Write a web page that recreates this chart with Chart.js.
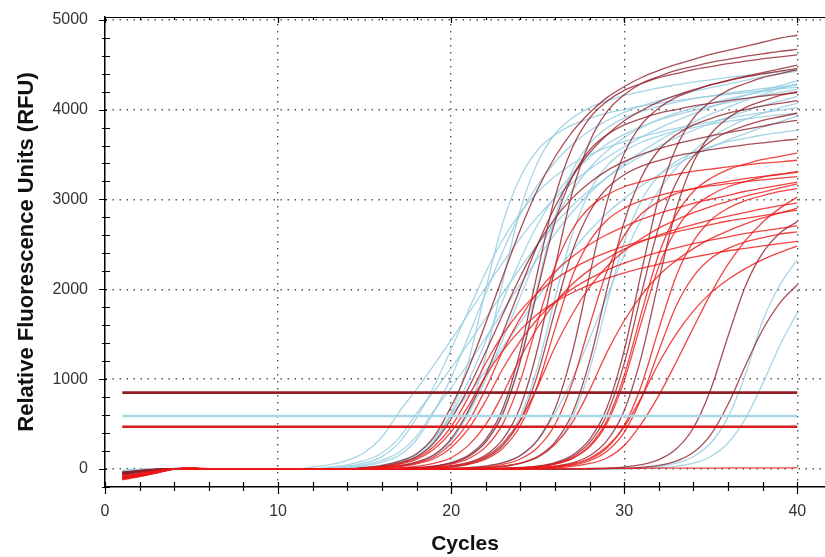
<!DOCTYPE html>
<html>
<head>
<meta charset="utf-8">
<script src="https://cdn.jsdelivr.net/npm/chart.js@4.4.1/dist/chart.umd.min.js"></script>
<style>
  html, body { margin: 0; padding: 0; background: #fff; }
  #wrap { width: 825px; height: 557px; }
</style>
</head>
<body>
<div id="wrap"><canvas id="chartAmplification" width="825" height="557"></canvas></div>
<script>
const cycles = [1,2,3,4,5,6,7,8,9,10,11,12,13,14,15,16,17,18,19,20,21,22,23,24,25,26,27,28,29,30,31,32,33,34,35,36,37,38,39,40];

// threshold levels (RFU): dark red, light blue, red
const thresholds = [850, 590, 470];

const xTickLabels = [0, 10, 20, 30, 40];
const yTickLabels = [0, 1000, 2000, 3000, 4000, 5000];

// RFU per cycle, one row per well
const lightBlueRuns = [
    [-30,-15,-5,5,5,0,0,0,0,0,0, 22,49,97,184,356,637,886,1156,1436,1728,2020,2300,2570,2808,3013,3186,3337,3467,3586,3694,3791,3877,3953,4028,4093,4158,4212,4266,4320],
    [-20,-10,0,5,0,0,0,0,0,0,0,0, 21,47,95,179,347,620,861,1124,1397,1680,1964,2237,2499,2730,2930,3098,3245,3371,3486,3591,3686,3770,3843,3917,3980,4043,4095,4148],
    [-40,-20,-5,5,5,0,0,0,0,0,0,0,0, 15,36,77,153,326,632,1020,1479,1958,2428,2836,3162,3417,3611,3764,3876,3968,4039,4100,4151,4202,4243,4284,4325,4366,4396,4427],
    [-25,-10,0,10,5,0,0,0,0,0,0,0,0, 22,50,99,187,363,649,902,1177,1463,1760,2057,2343,2618,2860,3069,3245,3399,3531,3652,3762,3861,3949,4026,4103,4169,4235,4290],
    [-30,-15,-5,5,5,0,0,0,0,0,0,0,0,0, 15,34,74,147,314,608,980,1421,1882,2332,2724,3038,3283,3469,3616,3724,3812,3881,3940,3989,4038,4077,4116,4155,4194,4224],
    [-20,-10,0,5,0,0,0,0,0,0,0,0, 14,32,69,138,294,570,920,1334,1766,2190,2558,2852,3082,3257,3395,3496,3579,3643,3698,3744,3790,3827,3864,3901,3938,3965,3993,4020],
    [-35,-15,-5,5,5,0,0,0,0,0,0,0,0, 8,15,30,65,140,300,620,1200,2000,2750,3250,3550,3720,3830,3900,3960,4000,4040,4070,4100,4125,4150,4170,4190,4210,4230,4250],
    [-30,-10,0,5,5,0,0,0,0,0,0,0,0,0, 8,16,32,68,147,315,651,1260,2100,2888,3413,3728,3906,4022,4095,4158,4200,4242,4274,4305,4331,4358,4379,4400,4420,4440],
    [-20,-10, 0,0,0,0,0,0,0,0,0,0, 0,0,0,0, 8,15,31,66,143,306,632,1224,2040,2805,3315,3621,3794,3907,3978,4039,4080,4121,4151,4182,4208,4233,4253,4274],
    [-25,-10, 0,0,0,0,0,0,0,0,0,0, 0,0,0,0,0, 8,14,29,62,133,285,589,1140,1900,2613,3088,3373,3534,3639,3705,3762,3800,3838,3867,3895,3919,3943,3962],
    [-30,-10, 0,0,0,0,0,0,0,0,0,0, 0,0,0,0,0,0,0,0, 15,35,75,150,320,620,1000,1450,1920,2380,2780,3100,3350,3540,3690,3800,3890,3960,4020,4070],
    [-20,-5, 0,0,0,0,0,0,0,0,0,0, 0,0,0,0,0,0,0,0, 7,14,28,60,129,276,570,1104,1840,2530,2990,3266,3422,3524,3588,3643,3680,3717,3744,3772],
    [-30,-10, 0,0,0,0,0,0,0,0,0,0, 0,0,0,0,0,0,0,0,0,0, 0,0,0,0,0,0,0, 8,15,30,65,140,290,580,1050,1650,2050,2330],
    [-20,-5, 0,0,0,0,0,0,0,0,0,0, 0,0,0,0,0,0,0,0,0,0, 0,0,0,0,0,0,0,0, 8,15,30,65,140,290,560,950,1380,1740],
    [-30,-10,0,5, 0,0,0,0,0,0,0,0,0,0, 0, 15,35,75,150,320,620,1000,1450,1920,2380,2780,3100,3350,3540,3690,3800,3890,3960,4020,4070,4120,4160,4200,4240,4280],
    [-15,-5, 0,0,0,0,0,0,0,0,0,0, 0,0, 20,46,92,173,337,602,836,1091,1357,1632,1907,2173,2428,2652,2846,3009,3152,3274,3386,3488,3580,3662,3733,3805,3866,3927],
];

const darkRedRuns = [
    [-60,-35,-10,5,10,5, 0,0,0,0,0,0,0,0, 17,39,84,168,358,694,1120,1624,2150,2666,3114,3472,3752,3965,4133,4256,4357,4435,4502,4558,4614,4659,4704,4749,4794,4827],
    [-50,-25,-5,5, 0,0,0,0,0,0,0,0,0,0, 14,32,68,135,288,558,900,1305,1728,2142,2502,2790,3015,3186,3321,3420,3501,3564,3618,3663,3708,3744,3780,3816,3852,3879],
    [-70,-40,-15,5,10, 0,0,0,0,0,0,0,0,0,0, 16,37,79,158,336,651,1050,1523,2016,2499,2919,3255,3518,3717,3875,3990,4085,4158,4221,4274,4326,4368,4410,4452,4494],
    [-50,-30,-10,5, 0,0,0,0,0,0,0,0,0,0, 0,0, 9,17,33,72,154,330,682,1320,2200,3025,3575,3905,4092,4213,4290,4356,4400,4444,4477,4510,4538,4565,4587,4609],
    [-40,-20,-5, 0,0,0,0,0,0,0,0,0,0, 0,0,0, 8,15,30,65,140,300,620,1200,2000,2750,3250,3550,3720,3830,3900,3960,4000,4040,4070,4100,4125,4150,4170,4190],
    [-60,-30,-10,5, 0,0,0,0,0,0,0,0,0,0, 0,0,0, 9,17,34,73,157,336,694,1344,2240,3080,3640,3976,4166,4290,4368,4435,4480,4525,4558,4592,4620,4648,4670],
    [-45,-25,-5, 0,0,0,0,0,0,0,0,0,0, 0,0,0,0, 7,13,26,57,123,264,546,1056,1760,2420,2860,3124,3274,3370,3432,3485,3520,3555,3582,3608,3630,3652,3670],
    [-50,-25,-5,5, 0,0,0,0,0,0,0,0,0,0, 0,0,0,0,0, 9,16,32,70,151,324,670,1296,2160,2970,3510,3834,4018,4136,4212,4277,4320,4363,4396,4428,4455],
    [-40,-20,-5, 0,0,0,0,0,0,0,0,0,0, 0,0,0,0,0,0,0, 8,15,30,65,140,300,620,1200,2000,2750,3250,3550,3720,3830,3900,3960,4000,4040,4070,4100],
    [-55,-30,-10,5, 0,0,0,0,0,0,0,0,0,0, 0,0,0,0,0,0,0,0, 9,17,33,72,154,330,682,1320,2200,3025,3575,3905,4092,4213,4290,4356,4400,4444],
    [-45,-20,-5, 0,0,0,0,0,0,0,0,0,0, 0,0,0,0,0,0,0,0,0, 8,15,29,64,137,294,608,1176,1960,2695,3185,3479,3646,3753,3822,3881,3920,3959],
    [-50,-25,-5, 0,0,0,0,0,0,0,0,0,0, 0,0,0,0,0,0,0,0,0,0, 8,16,32,68,147,315,651,1260,2100,2888,3413,3728,3906,4022,4095,4158,4200],
    [-40,-20,-5, 0,0,0,0,0,0,0,0,0,0, 0,0,0,0,0,0,0,0,0,0, 0,0,0,0, 6,11,22,48,104,222,459,888,1480,2035,2405,2627,2753],
    [-35,-15,0, 0,0,0,0,0,0,0,0,0,0, 0,0,0,0,0,0,0,0,0,0, 0,0,0,0,0, 5,9,19,40,87,186,384,720,1150,1550,1850,2050],
];

const redRuns = [
    [-110,-80,-40,0,10,5, 0,0,0,0,0,0,0,0, 12,28,60,120,250,470,800,1180,1500,1760,1960,2110,2230,2330,2410,2480,2540,2590,2640,2680,2720,2760,2790,2820,2850,2880],
    [-100,-70,-35,0,10, 0,0,0,0,0,0,0,0,0, 11,25,53,106,220,414,704,1038,1320,1549,1725,1857,1962,2050,2121,2182,2235,2279,2323,2358,2394,2429,2455,2482,2508,2534],
    [-90,-60,-30,0,10, 0,0,0,0,0,0,0,0,0,0, 11,27,57,114,238,447,760,1121,1425,1672,1862,2005,2119,2214,2290,2356,2413,2461,2508,2546,2584,2622,2651,2679,2708],
    [-120,-85,-45,0,10, 0,0,0,0,0,0,0,0,0,0, 13,31,67,134,280,526,896,1322,1680,1971,2195,2363,2498,2610,2699,2778,2845,2901,2957,3002,3046,3091,3125,3158,3192],
    [-100,-70,-30,5, 0,0,0,0,0,0,0,0,0,0, 0,0, 13,29,63,126,263,494,840,1239,1575,1848,2058,2216,2342,2447,2531,2604,2667,2720,2772,2814,2856,2898,2930,2961],
    [-90,-60,-25,0,10, 0,0,0,0,0,0,0,0,0,0, 0, 7,12,25,53,115,246,508,984,1640,2255,2665,2911,3050,3141,3198,3247,3280,3313,3337,3362,3383,3403,3419,3436],
    [-110,-75,-35,0,5, 0,0,0,0,0,0,0,0,0,0, 0,0, 6,12,23,51,109,234,484,936,1560,2145,2535,2769,2902,2987,3042,3089,3120,3151,3175,3198,3218,3237,3253],
    [-80,-50,-20,5, 0,0,0,0,0,0,0,0,0,0, 0,0,0,0, 14,32,69,138,288,541,920,1357,1725,2024,2254,2427,2565,2680,2772,2852,2921,2979,3036,3082,3128,3174],
    [-100,-70,-30,0,10, 0,0,0,0,0,0,0,0,0,0, 0,0,0,0, 6,12,24,52,112,240,496,960,1600,2200,2600,2840,2976,3064,3120,3168,3200,3232,3256,3280,3300],
    [-90,-60,-25, 0,0,0,0,0,0,0,0,0,0, 0,0,0,0,0,0,0,0, 13,31,66,132,275,517,880,1298,1650,1936,2156,2321,2453,2563,2651,2728,2794,2849,2904],
    [-110,-80,-40,0,10, 0,0,0,0,0,0,0,0,0,0, 0,0,0,0,0,0,0, 7,12,25,53,115,246,508,984,1640,2255,2665,2911,3050,3141,3198,3247,3280,3313],
    [-100,-70,-30,5, 0,0,0,0,0,0,0,0,0,0, 0,0,0,0,0,0,0,0, 7,13,26,57,122,261,539,1044,1740,2393,2828,3089,3236,3332,3393,3445,3480,3515],
    [-95,-65,-30,0,5, 0,0,0,0,0,0,0,0,0,0, 0,0,0,0,0,0,0,0, 6,12,23,51,109,234,484,936,1560,2145,2535,2769,2902,2987,3042,3089,3120],
    [-105,-75,-35,0,10, 0,0,0,0,0,0,0,0,0,0, 0,0,0,0,0,0,0,0, 5,10,20,43,92,198,409,792,1320,1815,2145,2343,2455,2528,2574,2614,2640],
    [-80,-50,-20, 0,0,0,0,0,0,0,0,0,0, 0,0,0,0,0,0,0,0,0,0, 0, 12,28,60,120,250,470,800,1180,1500,1760,1960,2110,2230,2330,2410,2480],
    [-90,-60,-25, 0,0,0,0,0,0,0,0,0,0, 0,0,0,0,0,0,0,0,0,0, 0,0, 12,29,62,123,262,508,820,1189,1574,1952,2280,2542,2747,2903,3026],
    [-100,-60,-20, 0,0,0,0,0,0,0,0,0,0, 0,0,0,0,0,0,0,0,0,0, 0, 5,5,5,5,8,8,8,10,10,10,10,12,12,12,12,15],
];

const palette = {
    lightBlue: 'rgba(150, 206, 224, 0.85)',
    darkRed: 'rgba(145, 32, 45, 0.8)',
    red: 'rgba(238, 22, 22, 0.8)',
    thrDarkRed: '#8E1F27',
    thrLightBlue: '#A9D6E4',
    thrRed: '#D81A1A',
    grid: '#555',
    text: '#333',
};

const fontFamily = '"Liberation Sans", Arial, sans-serif';

function toPoints(values) {
    return values.map((v, i) => ({ x: cycles[i], y: v }));
}

function runDatasets(runs, color) {
    return runs.map((values) => ({
        data: toPoints(values),
        borderColor: color,
        borderWidth: 1.3,
        pointRadius: 0,
        fill: false,
        cubicInterpolationMode: 'monotone',
    }));
}

// evenly stepped tick objects, so the minor marks land on round values
function steppedTicks(from, to, step) {
    const out = [];
    for (let v = from; v <= to; v += step) out.push({ value: v });
    return out;
}

const thresholdColors = [palette.thrDarkRed, palette.thrLightBlue, palette.thrRed];
const thresholdSets = thresholds.map((t, i) => ({
    data: [{ x: cycles[0], y: t }, { x: cycles[cycles.length - 1], y: t }],
    borderColor: thresholdColors[i],
    borderWidth: 2.6,
    pointRadius: 0,
    fill: false,
}));

// ticks crossing the axes plus the top frame line
const frameTicks = {
    id: 'frameTicks',
    afterDraw(chart) {
        const { ctx, chartArea, scales: { x, y } } = chart;
        ctx.save();
        ctx.strokeStyle = '#000';
        ctx.lineWidth = 1.2;
        ctx.beginPath();
        ctx.moveTo(chartArea.left, chartArea.top + 0.5);
        ctx.lineTo(chartArea.right, chartArea.top + 0.5);
        y.ticks.forEach((t) => {
            const py = Math.round(y.getPixelForValue(t.value)) + 0.5;
            const major = yTickLabels.includes(t.value);
            ctx.moveTo(chartArea.left - (major ? 6 : 3), py);
            ctx.lineTo(chartArea.left + (major ? 2 : 5), py);
        });
        x.ticks.forEach((t) => {
            const px = Math.round(x.getPixelForValue(t.value)) + 0.5;
            const major = xTickLabels.includes(t.value);
            ctx.moveTo(px, chartArea.bottom - 5);
            ctx.lineTo(px, chartArea.bottom + (major ? 7 : 4));
            ctx.moveTo(px, chartArea.top);
            ctx.lineTo(px, chartArea.top + (major ? 6 : 3));
        });
        ctx.stroke();
        ctx.restore();
    },
};

new Chart(document.getElementById('chartAmplification'), {
    type: 'line',
    data: {
        datasets: [
            ...thresholdSets,
            ...runDatasets(redRuns, palette.red),
            ...runDatasets(darkRedRuns, palette.darkRed),
            ...runDatasets(lightBlueRuns, palette.lightBlue),
        ],
    },
    options: {
        responsive: false,
        animation: false,
        devicePixelRatio: 1,
        layout: { padding: { top: 17, right: 0, bottom: 0, left: 0 } },
        plugins: {
            legend: { display: false },
            tooltip: { enabled: false },
        },
        scales: {
            x: {
                type: 'linear',
                min: 0,
                max: 41.6,
                afterBuildTicks: (scale) => { scale.ticks = steppedTicks(0, 40, 2); },
                afterFit: (scale) => {
                    scale.height = 70;
                    scale.paddingLeft = 0;
                    scale.paddingRight = 0;
                },
                ticks: {
                    autoSkip: false,
                    maxRotation: 0,
                    padding: 15,
                    color: palette.text,
                    font: { family: fontFamily, size: 16 },
                    callback: (v) => (xTickLabels.includes(v) ? String(v) : ''),
                },
                grid: {
                    drawTicks: false,
                    lineWidth: 1.4,
                    color: (ctx) => (ctx.tick && ctx.tick.value > 0 && xTickLabels.includes(ctx.tick.value) ? palette.grid : 'rgba(0,0,0,0)'),
                },
                border: { display: true, color: '#000', width: 1.5, dash: [1.5, 5.5] },
                title: {
                    display: true,
                    text: 'Cycles',
                    color: '#111',
                    font: { family: fontFamily, size: 21, weight: 'bold' },
                    padding: { top: 0, bottom: 0 },
                },
            },
            y: {
                min: -200,
                max: 5030,
                afterBuildTicks: (scale) => { scale.ticks = steppedTicks(-200, 5000, 200); },
                afterFit: (scale) => {
                    scale.width = 105;
                    scale.paddingTop = 0;
                    scale.paddingBottom = 0;
                },
                ticks: {
                    autoSkip: false,
                    padding: 17,
                    color: palette.text,
                    font: { family: fontFamily, size: 16 },
                    callback: (v) => (yTickLabels.includes(v) ? String(v) : ''),
                },
                grid: {
                    drawTicks: false,
                    lineWidth: 1.4,
                    color: (ctx) => (ctx.tick && yTickLabels.includes(ctx.tick.value) ? palette.grid : 'rgba(0,0,0,0)'),
                },
                border: { display: true, color: '#000', width: 1.5, dash: [1.5, 5.5] },
                title: {
                    display: true,
                    text: 'Relative Fluorescence Units (RFU)',
                    color: '#111',
                    font: { family: fontFamily, size: 22, weight: 'bold' },
                    padding: { top: 14, bottom: 0 },
                },
            },
        },
    },
    plugins: [frameTicks],
});
</script>
</body>
</html>
